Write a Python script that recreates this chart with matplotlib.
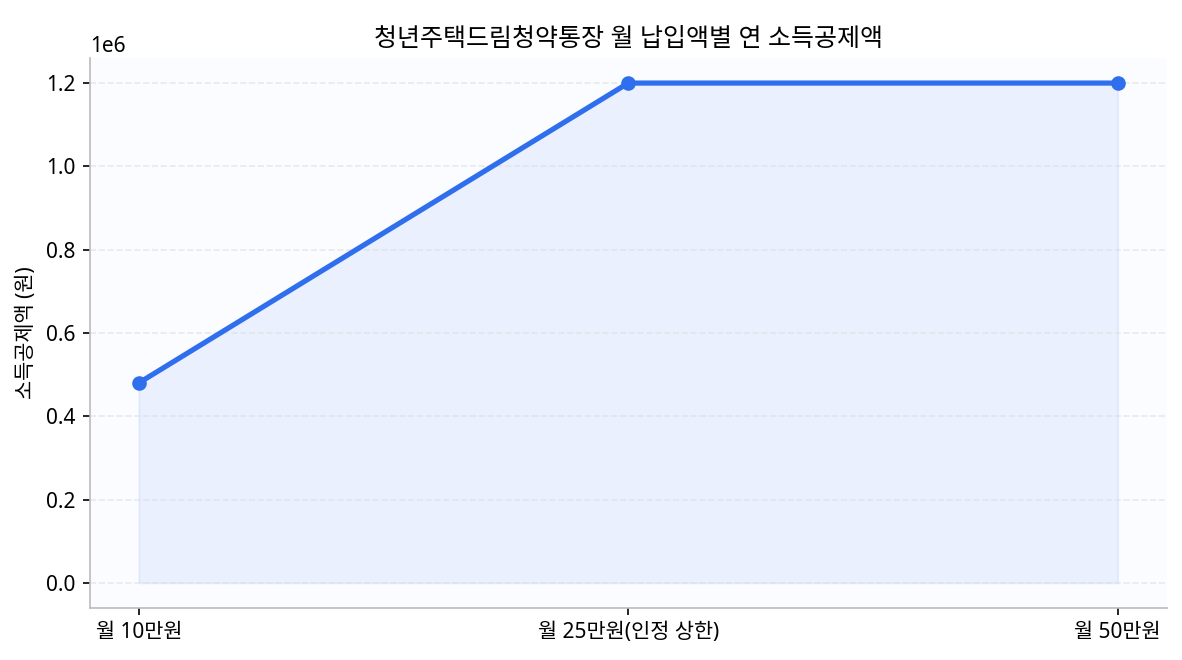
import matplotlib
matplotlib.use("Agg")
import matplotlib.pyplot as plt

plt.rcParams['font.family'] = ['Noto Sans', 'Noto Sans CJK KR', 'DejaVu Sans']

# 데이터
categories = ["월 10만원", "월 25만원(인정 상한)", "월 50만원"]
deduction = [480000, 1200000, 1200000]

fig, ax = plt.subplots(figsize=(7.88, 4.4), dpi=150)
ax.set_facecolor("#fafcff")

x = list(range(len(categories)))
ax.plot(x, deduction, color="#2f6fed", linewidth=2.5, marker="o", markersize=6)
ax.fill_between(x, deduction, color="#2f6fed", alpha=0.08)

ax.set_xticks(x)
ax.set_xticklabels(categories, fontsize=10)
ax.tick_params(axis="y", labelsize=10)
ax.set_ylabel("소득공제액 (원)", fontsize=10)
ax.set_title("청년주택드림청약통장 월 납입액별 연 소득공제액", fontsize=12)

ax.grid(axis="y", linestyle="--", color="#dddddd", alpha=0.6)
ax.spines["top"].set_visible(False)
ax.spines["right"].set_visible(False)
ax.spines["left"].set_color("#bbbbbb")
ax.spines["bottom"].set_color("#bbbbbb")

plt.subplots_adjust(left=0.076, right=0.987, top=0.912, bottom=0.079)
plt.savefig("out.png")
